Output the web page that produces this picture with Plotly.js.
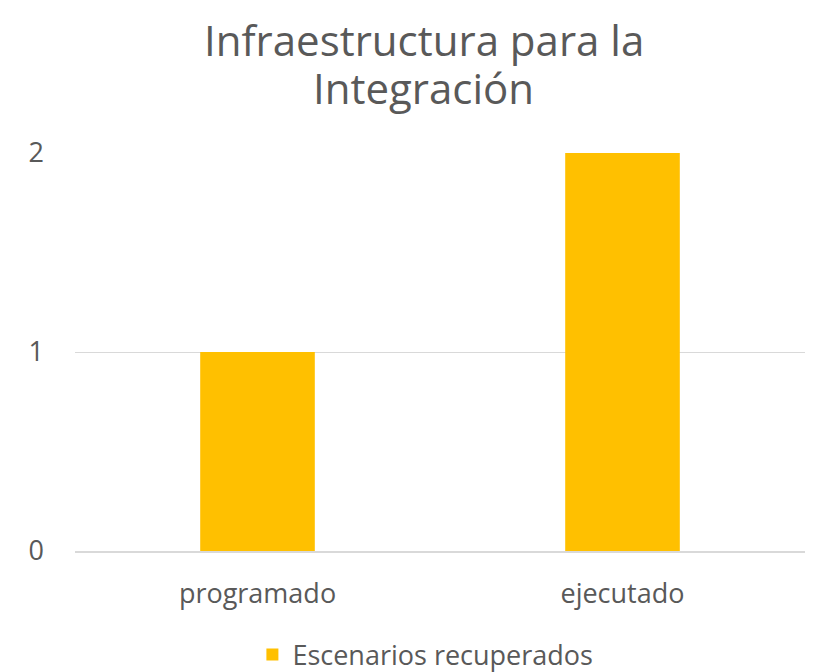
<!DOCTYPE html>
<html><head><meta charset="utf-8">
<script src="https://cdn.plot.ly/plotly-3.0.1.min.js"></script>
<style>html,body{margin:0;padding:0;background:#fff}#chart{width:818px;height:672px}</style>
</head><body><div id="chart"></div>
<script>
var categories = ["programado", "ejecutado"];
var values = [1, 2];
var seriesName = "Escenarios recuperados";
var yTicks = [0, 1, 2];
var titleLines = ["Infraestructura para la", "Integración"];

var font = "Open Sans, Liberation Sans, sans-serif";
var trace = {
  type: "bar", x: categories, y: values, name: seriesName,
  marker: {color: "#FFC000"}, showlegend: true, hoverinfo: "none"
};
var layout = {
  width: 818, height: 672,
  margin: {l: 75, r: 13, t: 153, b: 121},
  paper_bgcolor: "#fff", plot_bgcolor: "#fff",
  font: {family: font, color: "#595959"},
  annotations: [
    {text: titleLines[0], xref: "paper", yref: "paper", x: 0.478, y: (551 - 40) / 398, xanchor: "center", yanchor: "middle",
     showarrow: false, font: {size: 42, color: "#595959", family: font}},
    {text: titleLines[1], xref: "paper", yref: "paper", x: 0.478, y: (551 - 87) / 398, xanchor: "center", yanchor: "middle",
     showarrow: false, font: {size: 42, color: "#595959", family: font}}
  ],
  bargap: 0.686,
  xaxis: {showgrid: false, showline: true, linecolor: "#d9d9d9", linewidth: 1.5, zeroline: false,
          tickfont: {size: 27, color: "#595959"}, ticks: "", ticklabelstandoff: 18},
  yaxis: {range: [0, 2], tickvals: yTicks, showgrid: true, gridcolor: "#d9d9d9", gridwidth: 1,
          zeroline: false, showline: false, ticks: "", tickfont: {size: 27, color: "#595959"},
          ticklabelstandoff: 30},
  showlegend: true,
  legend: {orientation: "h", x: 0.48, xanchor: "center", xref: "paper", yref: "container",
           y: 17 / 672, yanchor: "middle",
           font: {size: 27, color: "#595959"}, itemwidth: 20}
};
Plotly.newPlot("chart", [trace], layout, {displayModeBar: false, staticPlot: true});
</script></body></html>
